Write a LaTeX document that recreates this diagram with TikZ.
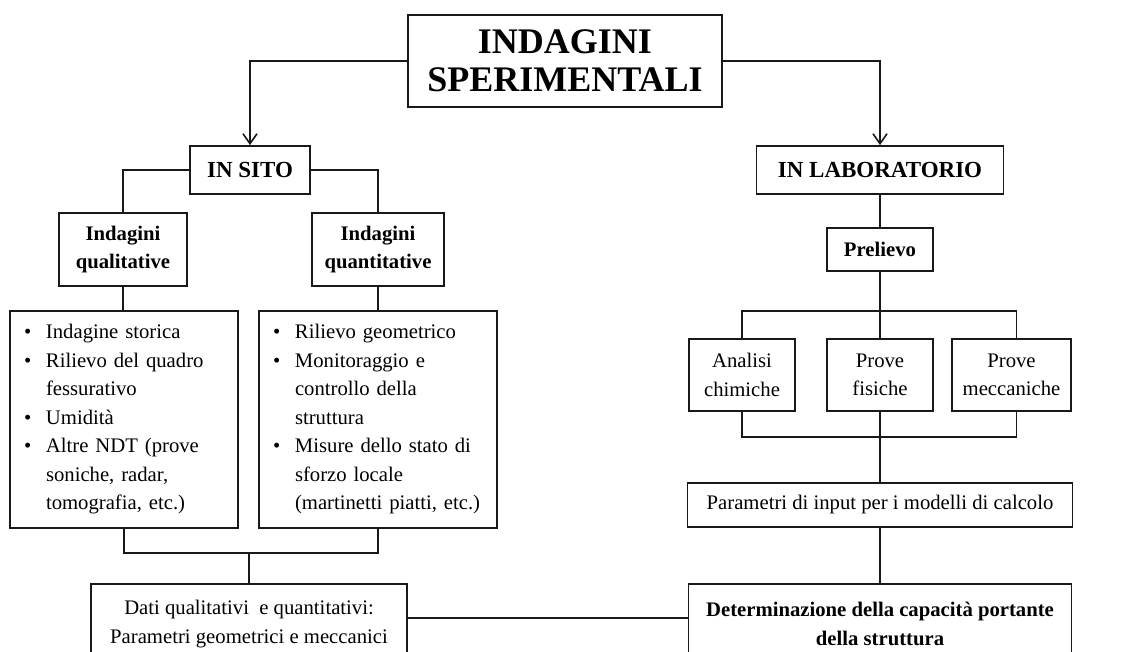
\documentclass[tikz,border=0pt]{standalone}
\usepackage{fontspec}
\setmainfont{Liberation Serif}
\usetikzlibrary{arrows.meta,calc}
\newcommand\lbul{\makebox[22pt][l]{\textbullet}}
\newcommand\lind{\hspace*{22pt}}
\begin{document}
\begin{tikzpicture}[x=1pt,y=-1pt,
  box/.style={draw=black!90, line width=1.8pt, inner sep=0pt, align=center, font=\fontsize{20.7}{28.5}\selectfont},
  bbox/.style={box, font=\fontsize{20.7}{28.5}\selectfont\bfseries},
  lbox/.style={draw=black!90, line width=1.8pt, inner xsep=14pt, inner ysep=0pt, align=left, font=\fontsize{20.7}{28.5}\selectfont},
  ln/.style={draw=black!90, line width=1.8pt},
  arr/.style={ln, -{Straight Barb[length=10pt,width=14pt,line width=1.6pt]}}
]
\useasboundingbox (0,0) rectangle (1147,651);
\clip (0,0) rectangle (1147,651);

\node[bbox, font=\fontsize{36}{38}\selectfont\bfseries, minimum width=314pt, minimum height=92pt] (title) at (565,61) {INDAGINI\\SPERIMENTALI};
\node[bbox, font=\fontsize{23}{28}\selectfont\bfseries, minimum width=120pt, minimum height=48pt] (insito) at (250,170) {IN SITO};
\node[bbox, font=\fontsize{23}{28}\selectfont\bfseries, minimum width=247pt, minimum height=48pt] (inlab) at (880,170) {IN LABORATORIO};

\node[bbox, minimum width=128pt, minimum height=73pt] (qual) at (123,249.5) {Indagini\\qualitative};
\node[bbox, minimum width=132pt, minimum height=73pt] (quant) at (378,249.5) {Indagini\\quantitative};

\node[lbox, text width=200pt, minimum height=217pt] (listq) at (124,419.5) {%
\lbul Indagine storica\\
\lbul Rilievo del quadro\\
\lind fessurativo\\
\lbul Umidità\\
\lbul Altre NDT (prove\\
\lind soniche, radar,\\
\lind tomografia, etc.)};
\node[lbox, text width=210pt, minimum height=217pt] (listn) at (378,419.5) {%
\lbul Rilievo geometrico\\
\lbul Monitoraggio e\\
\lind controllo della\\
\lind struttura\\
\lbul Misure dello stato di\\
\lind sforzo locale\\
\lind (martinetti piatti, etc.)};

\node[box, minimum width=316pt, minimum height=80pt, anchor=north] (dati) at (249,583) {Dati qualitativi\ \ e quantitativi:\\Parametri geometrici e meccanici};
\node[bbox, minimum width=383pt, minimum height=80pt, anchor=north] (determ) at (880,583) {Determinazione della capacità portante\\della struttura};

\node[bbox, minimum width=106pt, minimum height=43pt] (prel) at (880,249.5) {Prelievo};
\node[box, minimum width=106pt, minimum height=72pt] (anal) at (742,375) {Analisi\\chimiche};
\node[box, minimum width=106pt, minimum height=72pt] (fis) at (880,375) {Prove\\fisiche};
\node[box, minimum width=119pt, minimum height=72pt] (mecc) at (1011.5,375) {Prove\\meccaniche};
\node[box, minimum width=385pt, minimum height=44pt] (param) at (880,505) {Parametri di input per i modelli di calcolo};

\draw[arr] (title.west) -| (insito.north);
\draw[arr] (title.east) -| (inlab.north);
\draw[ln] (insito.west) -| (qual.north);
\draw[ln] (insito.east) -| (quant.north);
\draw[ln] (qual.south) -- (qual.south |- listq.north);
\draw[ln] (quant.south) -- (listn.north);
\coordinate (mq) at (249,553);
\draw[ln] (listq.south) |- (mq) -| (listn.south);
\draw[ln] (mq) -- (dati.north);
\draw[ln] ($(dati.north east)+(0,35)$) -- ($(determ.north west)+(0,35)$);

\draw[ln] (inlab.south) -- (prel.north);
\coordinate (bt) at (880,311);
\coordinate (bb) at (880,437);
\draw[ln] (prel.south) -- (fis.north);
\draw[ln] (anal.north) |- (bt) -| ($(mecc.north)+(5,0)$);
\draw[ln] (anal.south) |- (bb) -| ($(mecc.south)+(5,0)$);
\draw[ln] (fis.south) -- (param.north);
\draw[ln] (param.south) -- (determ.north);
\end{tikzpicture}
\end{document}
